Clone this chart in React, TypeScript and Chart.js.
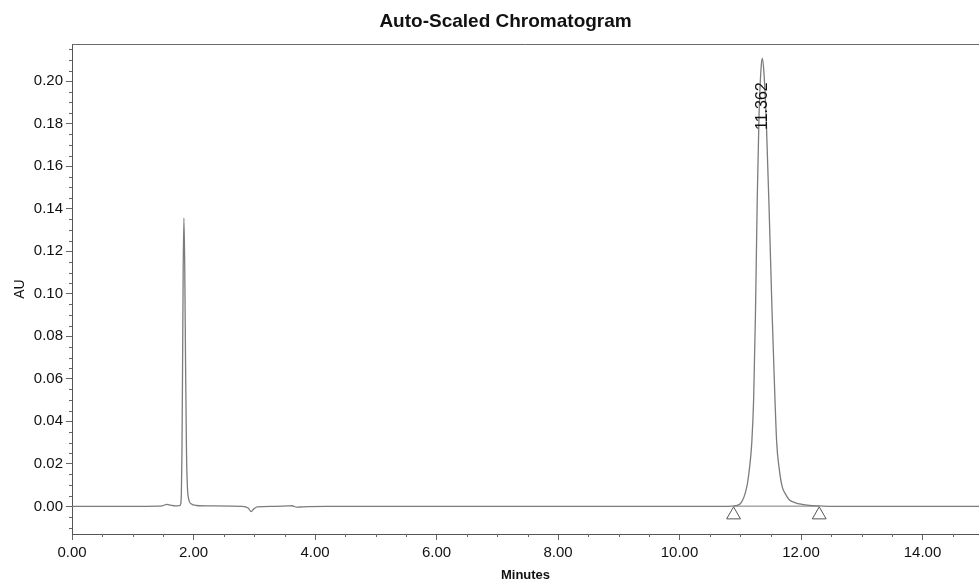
import React, { useEffect, useRef } from "react";
import { Chart, registerables } from "chart.js";

Chart.register(...registerables);

const FONT = '"Liberation Sans", Arial, sans-serif';

const chartTitle = "Auto-Scaled Chromatogram";
const xAxisTitle = "Minutes";
const yAxisTitle = "AU";

// Detector trace: time (minutes) and absorbance (AU)
const traceMinutes = [
  0.0, 0.5, 1.0, 1.4, 1.5, 1.56, 1.62, 1.7, 1.77, 1.79, 1.8, 1.81, 1.82, 1.83,
  1.842, 1.855, 1.87, 1.885, 1.9, 1.92, 1.96, 2.05, 2.3, 2.8, 2.9, 2.95, 2.99,
  3.05, 3.3, 3.55, 3.62, 3.7, 3.8, 4.2, 6.0, 8.0, 10.0, 10.8, 10.9, 10.96, 11.0,
  11.04, 11.08, 11.12, 11.16, 11.19, 11.22, 11.25, 11.28, 11.31, 11.34, 11.362,
  11.39, 11.43, 11.48, 11.52, 11.56, 11.6, 11.64, 11.69, 11.75, 11.81, 11.9,
  12.0, 12.1, 12.3, 12.5, 13.5, 14.93,
];
const traceAU = [
  0.0, 0.0, 0.0, 0.0001, 0.0004, 0.0009, 0.0006, 0.0002, 0.0003, 0.0012, 0.006,
  0.025, 0.065, 0.11, 0.1356, 0.115, 0.065, 0.025, 0.009, 0.0035, 0.0012,
  0.0004, 0.0002, 0.0, -0.0008, -0.0025, -0.0012, -0.0002, 0.0, 0.0002, 0.0003,
  -0.0004, -0.0002, 0.0, 0.0, 0.0, 0.0, 0.0, 0.0002, 0.0006, 0.0012, 0.003,
  0.006, 0.011, 0.02, 0.03, 0.05, 0.09, 0.145, 0.185, 0.205, 0.2108, 0.204,
  0.18, 0.135, 0.095, 0.06, 0.03, 0.018, 0.0093, 0.0055, 0.003, 0.0018, 0.001,
  0.0006, 0.0002, 0.0, 0.0, 0.0,
];

// Integration marks (peak start / end) and baseline
const integrationMinutes = [10.89, 12.3];
const integrationAU = [-0.004, -0.004];
const integrationBaselineAU = [0.0001, 0.0001];

// Peak annotation
const peakLabelMinutes = [11.362];
const peakLabelTexts = ["11.362"];

// Axes
const xMin = 0;
const xMax = 14.93;
const yMin = -0.013;
const yMax = 0.2175;
const xMajorTicks = [0, 2, 4, 6, 8, 10, 12, 14];
const yMajorTicks = [0, 0.02, 0.04, 0.06, 0.08, 0.1, 0.12, 0.14, 0.16, 0.18, 0.2];
const xMinorStep = 0.5;
const yMinorStep = 0.005;

const decorPlugin = {
  id: "decor",
  afterDraw(chart: any) {
    const { ctx, chartArea, scales } = chart;
    const xs = scales.x;
    const ys = scales.y;
    ctx.save();

    // top frame line
    ctx.strokeStyle = "#6a6a6a";
    ctx.lineWidth = 1;
    ctx.beginPath();
    ctx.moveTo(chartArea.left, Math.round(chartArea.top) + 0.5);
    ctx.lineTo(chartArea.right, Math.round(chartArea.top) + 0.5);
    ctx.stroke();

    // minor ticks
    ctx.strokeStyle = "#666";
    ctx.beginPath();
    for (let i = 1; i * xMinorStep < xMax; i++) {
      const v = i * xMinorStep;
      if (xMajorTicks.some((m) => Math.abs(m - v) < 1e-9)) continue;
      const px = Math.round(xs.getPixelForValue(v)) + 0.5;
      ctx.moveTo(px, chartArea.bottom);
      ctx.lineTo(px, chartArea.bottom + 3);
    }
    const yStart = Math.ceil(yMin / yMinorStep);
    for (let i = yStart; i * yMinorStep < yMax; i++) {
      const v = i * yMinorStep;
      if (yMajorTicks.some((m) => Math.abs(m - v) < 1e-9)) continue;
      const py = Math.round(ys.getPixelForValue(v)) + 0.5;
      ctx.moveTo(chartArea.left - 3, py);
      ctx.lineTo(chartArea.left, py);
    }
    ctx.stroke();

    // title
    ctx.fillStyle = "#111";
    ctx.font = `bold 19px ${FONT}`;
    ctx.textAlign = "center";
    ctx.textBaseline = "middle";
    ctx.fillText(
      chartTitle,
      chartArea.left + (chartArea.right - chartArea.left) * 0.478,
      22
    );

    // peak labels (rotated)
    ctx.font = `16px ${FONT}`;
    peakLabelMinutes.forEach((t, i) => {
      let apex = 0;
      traceMinutes.forEach((m, j) => {
        if (Math.abs(m - t) < 0.3 && traceAU[j] > apex) apex = traceAU[j];
      });
      const px = xs.getPixelForValue(t);
      const py = ys.getPixelForValue(apex) + 24;
      ctx.save();
      ctx.translate(px, py);
      ctx.rotate(-Math.PI / 2);
      ctx.textAlign = "right";
      ctx.textBaseline = "middle";
      ctx.fillText(peakLabelTexts[i], 0, 0);
      ctx.restore();
    });

    ctx.restore();
  },
};

export default function App() {
  const canvasRef = useRef<HTMLCanvasElement | null>(null);

  useEffect(() => {
    if (!canvasRef.current) return;
    const traceData = traceMinutes.map((x, i) => ({ x, y: traceAU[i] }));
    const markData = integrationMinutes.map((x, i) => ({ x, y: integrationAU[i] }));
    const baseData = integrationMinutes.map((x, i) => ({
      x,
      y: integrationBaselineAU[i],
    }));

    const chart = new Chart(canvasRef.current, {
      type: "line",
      data: {
        datasets: [
          {
            label: "Trace",
            data: traceData,
            borderColor: "#7c7c7c",
            borderWidth: 1.3,
            pointRadius: 0,
            cubicInterpolationMode: "monotone",
            fill: false,
          },
          {
            label: "Baseline",
            data: baseData,
            borderColor: "#7c7c7c",
            borderWidth: 1,
            pointRadius: 0,
            fill: false,
          },
          {
            label: "Marks",
            data: markData,
            showLine: false,
            pointStyle: "triangle",
            pointRadius: 8,
            pointBorderWidth: 1,
            pointBorderColor: "#555",
            pointBackgroundColor: "rgba(255,255,255,0)",
          },
        ],
      },
      options: {
        animation: false,
        responsive: true,
        maintainAspectRatio: false,
        layout: {
          autoPadding: false,
          padding: { top: 44, left: 0, right: 0, bottom: 0 },
        },
        plugins: {
          legend: { display: false },
          tooltip: { enabled: false },
          title: { display: false },
        },
        scales: {
          x: {
            type: "linear",
            min: xMin,
            max: xMax,
            afterBuildTicks: (s: any) => {
              s.ticks = xMajorTicks.map((v) => ({ value: v }));
            },
            afterFit: (s: any) => {
              s.height = 48;
              s.paddingLeft = 0;
              s.paddingRight = 0;
            },
            ticks: {
              autoSkip: false,
              maxRotation: 0,
              callback: (v: any) => Number(v).toFixed(2),
              font: { size: 15, family: FONT },
              color: "#111",
              padding: 4,
            },
            grid: {
              drawOnChartArea: false,
              drawTicks: true,
              tickLength: 6,
              color: "#666",
            },
            border: { color: "#555" },
            title: {
              display: true,
              text: xAxisTitle,
              font: { size: 13, weight: "bold", family: FONT },
              color: "#111",
              padding: { top: 0, bottom: -1 },
            },
          },
          y: {
            type: "linear",
            min: yMin,
            max: yMax,
            afterBuildTicks: (s: any) => {
              s.ticks = yMajorTicks.map((v) => ({ value: v }));
            },
            afterFit: (s: any) => {
              s.width = 72;
              s.paddingTop = 0;
              s.paddingBottom = 0;
            },
            ticks: {
              autoSkip: false,
              callback: (v: any) => Number(v).toFixed(2),
              font: { size: 15, family: FONT },
              color: "#111",
              padding: 3,
            },
            grid: {
              drawOnChartArea: false,
              drawTicks: true,
              tickLength: 6,
              color: "#666",
            },
            border: { color: "#555" },
            title: {
              display: true,
              text: yAxisTitle,
              font: { size: 14, family: FONT },
              color: "#111",
              padding: { top: 12, bottom: 0 },
            },
          },
        },
      } as any,
      plugins: [decorPlugin],
    });

    return () => chart.destroy();
  }, []);

  return (
    <div
      style={{
        position: "absolute",
        left: 0,
        top: 0,
        width: 979,
        height: 582,
        background: "#fff",
      }}
    >
      <canvas ref={canvasRef} />
    </div>
  );
}
